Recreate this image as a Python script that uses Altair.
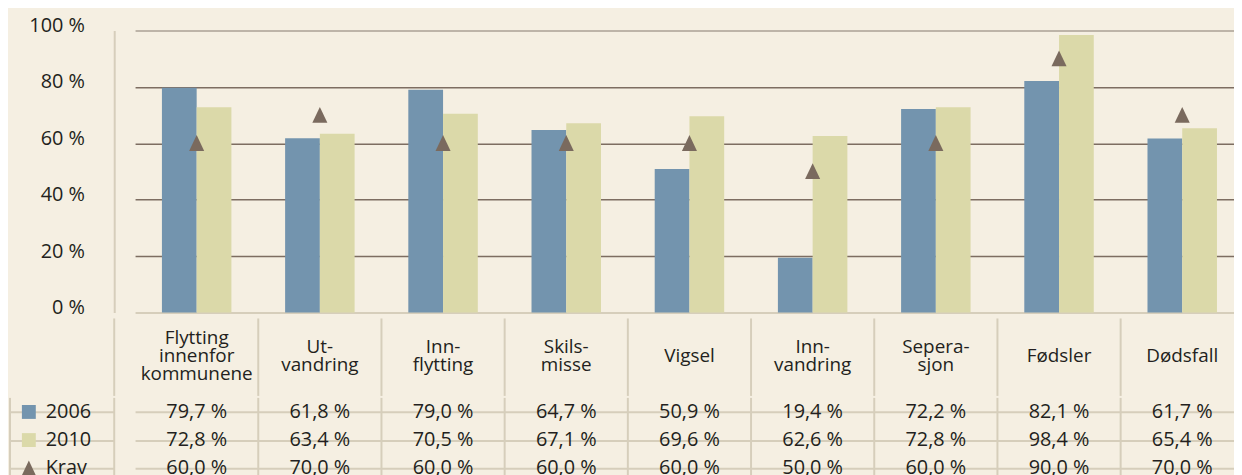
import altair as alt
import pandas as pd

# ---- data -------------------------------------------------------------
categories = ["Flytting innenfor kommunene", "Utvandring", "Innflytting", "Skilsmisse",
              "Vigsel", "Innvandring", "Seperasjon", "Fødsler", "Dødsfall"]
header_labels = [["Flytting", "innenfor", "kommunene"], ["Ut-", "vandring"], ["Inn-", "flytting"],
                 ["Skils-", "misse"], ["Vigsel"], ["Inn-", "vandring"], ["Sepera-", "sjon"],
                 ["Fødsler"], ["Dødsfall"]]
values_2006 = [79.7, 61.8, 79.0, 64.7, 50.9, 19.4, 72.2, 82.1, 61.7]
values_2010 = [72.8, 63.4, 70.5, 67.1, 69.6, 62.6, 72.8, 98.4, 65.4]
krav = [60.0, 70.0, 60.0, 60.0, 60.0, 50.0, 60.0, 90.0, 70.0]
years = ["2006", "2010"]
row_names = ["2006", "2010", "Krav"]
y_ticks = [0, 20, 40, 60, 80, 100]

# ---- styles -----------------------------------------------------------
BG = "#f5efe2"
BLUE = "#7394ae"
YELLOW = "#dbd9a9"
BROWN = "#7a6a5e"
GRID = "#7d6d61"
GRID_TOP = "#aaa194"
LINE = "#d6cebb"
TEXT = "#231f20"
FONT = "Open Sans"
FS = 20
HFS = 19
LH = 18

W = 1128
H_BARS = 284
H_HEAD = 78
H_VAL = 85
LEFT = 106
STEP = 124.1
X0 = 21
XR = [X0, X0 + 9 * STEP]
TRI = "M0,-1.1L1,1L-1,1Z"


def fmt(v):
    return f"{v:.1f}".replace(".", ",") + " %"


bar_df = pd.DataFrame(
    [{"cat": c, "year": "2006", "value": v} for c, v in zip(categories, values_2006)]
    + [{"cat": c, "year": "2010", "value": v} for c, v in zip(categories, values_2010)]
)
krav_df = pd.DataFrame({"cat": categories, "krav": krav})
head_df = pd.DataFrame(
    [{"cat": c, "line": t, "pos": i - (len(lines) - 1) / 2}
     for c, lines in zip(categories, header_labels) for i, t in enumerate(lines)]
)
series = {"2006": values_2006, "2010": values_2010, "Krav": krav}
val_df = pd.DataFrame(
    [{"row": r, "cat": c, "txt": fmt(v)} for r in row_names for c, v in zip(categories, series[r])]
)
rows_df = pd.DataFrame({"row": row_names})
inner_df = pd.DataFrame({"cat": categories[1:]})
one_df = pd.DataFrame({"a": [0]})

# ---- bar chart --------------------------------------------------------
xb = alt.Scale(domain=categories, range=XR, paddingInner=0.436, paddingOuter=0.218)
xt = alt.Scale(domain=categories, range=XR, paddingInner=0, paddingOuter=0)

bars = alt.Chart(bar_df).mark_bar().encode(
    x=alt.X("cat:N", scale=xb,
            axis=alt.Axis(title=None, labels=False, ticks=False, grid=False,
                          domainColor=LINE, domainWidth=2)),
    xOffset=alt.XOffset("year:N", scale=alt.Scale(domain=years, paddingInner=0, paddingOuter=0)),
    y=alt.Y("value:Q", scale=alt.Scale(domain=[0, 100], nice=False),
            axis=alt.Axis(title=None, values=y_ticks, labelExpr="datum.value + ' %'",
                          ticks=False, labelPadding=30, labelOffset=-5,
                          labelFont=FONT, labelFontSize=FS, labelColor=TEXT,
                          domainColor=LINE, domainWidth=2,
                          gridColor=alt.condition("datum.value == 100", alt.value(GRID_TOP), alt.value(GRID)),
                          gridOpacity=alt.condition("datum.value == 0", alt.value(0), alt.value(1)),
                          gridWidth=1.5)),
    color=alt.Color("year:N", scale=alt.Scale(domain=years, range=[BLUE, YELLOW]), legend=None),
)

tri = alt.Chart(krav_df).mark_point(shape=TRI, size=230, filled=True, opacity=1,
                                     color=BROWN, strokeWidth=0).encode(
    x=alt.X("cat:N", scale=xb),
    y=alt.Y("krav:Q"),
)

bar_chart = alt.layer(bars, tri).properties(width=W, height=H_BARS)

# ---- header row -------------------------------------------------------
half = H_HEAD / 2 / LH
head_text = alt.Chart(head_df).mark_text(font=FONT, fontSize=HFS, color=TEXT, dy=-1).encode(
    x=alt.X("cat:N", scale=xt, axis=None),
    y=alt.Y("pos:Q", scale=alt.Scale(domain=[-half, half], reverse=True, nice=False, zero=False),
            axis=None),
    text="line:N",
)
head_rules = alt.Chart(inner_df).mark_rule(color=LINE, strokeWidth=2).encode(
    x=alt.X("cat:N", scale=xt, axis=None, bandPosition=0),
)
head_left = alt.Chart(one_df).mark_rule(color=LINE, strokeWidth=2).encode(x=alt.value(0))
head_chart = alt.layer(head_rules, head_left, head_text).properties(width=W, height=H_HEAD)

# ---- value rows -------------------------------------------------------
yrow = alt.Scale(domain=row_names, paddingInner=0, paddingOuter=0)
val_text = alt.Chart(val_df).mark_text(font=FONT, fontSize=FS, color=TEXT).encode(
    x=alt.X("cat:N", scale=xt, axis=None),
    y=alt.Y("row:N", scale=yrow,
            axis=alt.Axis(title=None, labels=False, domain=False, bandPosition=0,
                          tickSize=LEFT, tickColor=LINE, tickWidth=2,
                          grid=True, gridColor=LINE, gridWidth=2)),
    text="txt:N",
)
val_rules = alt.Chart(inner_df).mark_rule(color=LINE, strokeWidth=2).encode(
    x=alt.X("cat:N", scale=xt, axis=None, bandPosition=0),
)
val_left = alt.Chart(one_df).mark_rule(color=LINE, strokeWidth=2).encode(x=alt.value(0))
val_edge = alt.Chart(one_df).mark_rule(color=LINE, strokeWidth=2).encode(x=alt.value(-LEFT + 1))
leg_sym = alt.Chart(rows_df).mark_point(filled=True, opacity=1, strokeWidth=0).encode(
    x=alt.value(-86),
    y=alt.Y("row:N", scale=yrow),
    shape=alt.Shape("row:N", scale=alt.Scale(domain=row_names, range=["square", "square", TRI]), legend=None),
    color=alt.Color("row:N", scale=alt.Scale(domain=row_names, range=[BLUE, YELLOW, BROWN]), legend=None),
    size=alt.Size("row:N", scale=alt.Scale(domain=row_names, range=[196, 196, 330]), legend=None),
)
leg_txt = alt.Chart(rows_df).mark_text(align="left", font=FONT, fontSize=FS, color=TEXT).encode(
    x=alt.value(-69),
    y=alt.Y("row:N", scale=yrow),
    text="row:N",
)
val_chart = alt.layer(val_rules, val_left, val_edge, leg_sym, leg_txt, val_text).properties(
    width=W, height=H_VAL)

chart = alt.vconcat(bar_chart, head_chart, val_chart, spacing=0).resolve_scale(
    x="independent", y="independent", color="independent", shape="independent", size="independent"
).properties(
    padding={"left": 0, "top": 6, "right": 0, "bottom": 0}
).configure(background=BG).configure_view(stroke=None)

chart.save("out.html", embed_options={"renderer": "svg", "actions": False})
